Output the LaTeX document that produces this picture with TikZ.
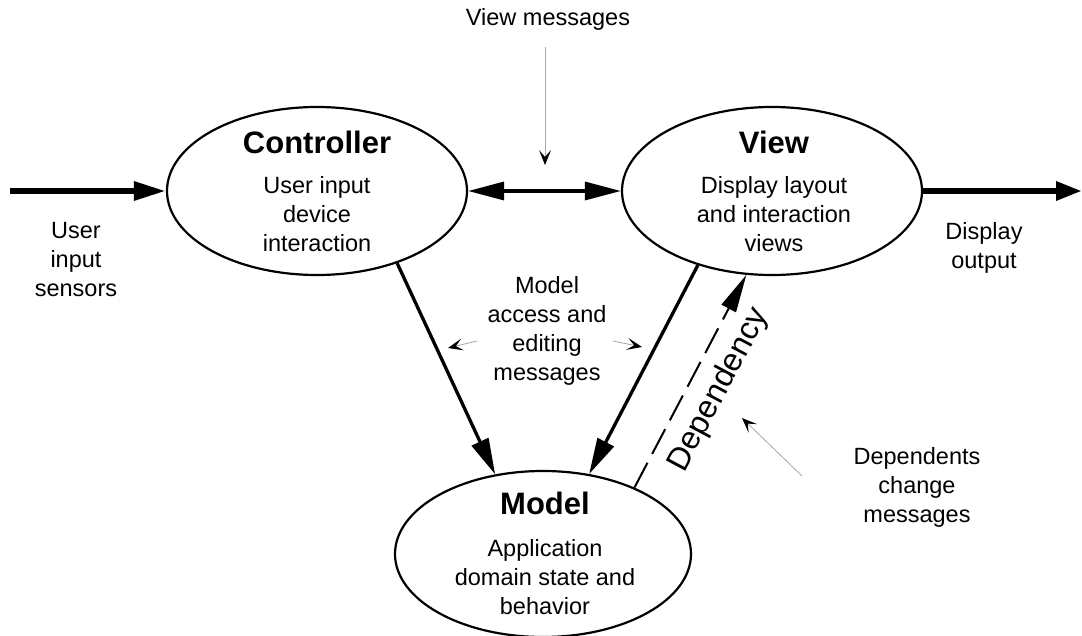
\documentclass[tikz,border=0pt]{standalone}
\usepackage{fontspec}
\setmainfont{Liberation Sans}
\usetikzlibrary{arrows.meta,shapes.geometric}

\newcommand\parttitle[1]{{\fontsize{31}{31}\selectfont\bfseries #1}}

\begin{document}
\begin{tikzpicture}[x=1pt,y=-1pt,
    part/.style={draw,ellipse,line width=2.2pt,minimum width=300pt,minimum height=168pt,inner sep=0pt},
    parttext/.style={align=center,inner sep=0pt,font=\fontsize{23.5}{29}\selectfont},
    note/.style={align=center,inner sep=0pt,font=\fontsize{23.5}{29}\selectfont},
    io/.style={line width=6pt,-{Triangle[length=32pt,width=18pt]}},
    call/.style={line width=3.3pt,>={Triangle[length=36pt,width=18pt]}},
    dep/.style={line width=2pt,dash pattern=on 28pt off 10pt,-{Triangle[length=38pt,width=16pt]}},
    msg/.style={line width=0.8pt,gray!70,-{Stealth[length=15pt,width=12pt,inset=7pt,black]}}]
    \useasboundingbox (0,0) rectangle (1082,636);
    % Controller, View, Model
    \node[part] (ctrl) at (317,191) {};
    \node[parttext] (ctrl-txt) at (317,191) {\parttitle{Controller}\\[11pt]User input\\device\\interaction};
    \node[part] (view) at (772,191) {};
    \node[parttext] (view-txt) at (774,191) {\parttitle{View}\\[11pt]Display layout\\and interaction\\views};
    \node[part,minimum width=296pt,minimum height=166pt] (model) at (543,554) {};
    \node[parttext] (model-txt) at (545,553) {\parttitle{Model}\\[13pt]Application\\domain state and\\behavior};
    % outside labels
    \node[note] (sensors) at (76,260) {User\\input\\sensors};
    \node[note] (display) at (984,248) {Display\\output};
    \node[note] (vmsg) at (548,19) {View messages};
    \node[note] (access) at (547,331) {Model\\access and\\editing\\messages};
    \node[note] (dependents) at (917,487) {Dependents\\change\\messages};
    \node[rotate=62,inner sep=0pt,font=\fontsize{32}{32}\selectfont] (deplbl) at (719,390) {Dependency};
    % input and output
    \coordinate (in) at (10,191);
    \coordinate (out) at (1082,191);
    \draw[io] (in) -- (ctrl.west);
    \draw[io,-{Triangle[length=26pt,width=18pt]}] (view.east) -- (out);
    % messages between the parts
    \draw[call,<->] (ctrl.east) -- (view.west);
    \draw[call,->] (ctrl.-42) -- (model.121);
    \draw[call,->] (view.225) -- (model.60);
    \draw[dep] (model.36) -- (view.253);
    % thin pointers
    \coordinate (vm-a) at (545,47);
    \coordinate (vm-b) at (545,165);
    \coordinate (acc-l1) at (477,341);
    \coordinate (acc-l2) at (448,348);
    \coordinate (acc-r1) at (613,341);
    \coordinate (acc-r2) at (642,347);
    \coordinate (dc-a) at (802,476);
    \coordinate (dc-b) at (742,418);
    \draw[msg] (vm-a) -- (vm-b);
    \draw[msg] (acc-l1) -- (acc-l2);
    \draw[msg] (acc-r1) -- (acc-r2);
    \draw[msg] (dc-a) -- (dc-b);
\end{tikzpicture}
\end{document}
